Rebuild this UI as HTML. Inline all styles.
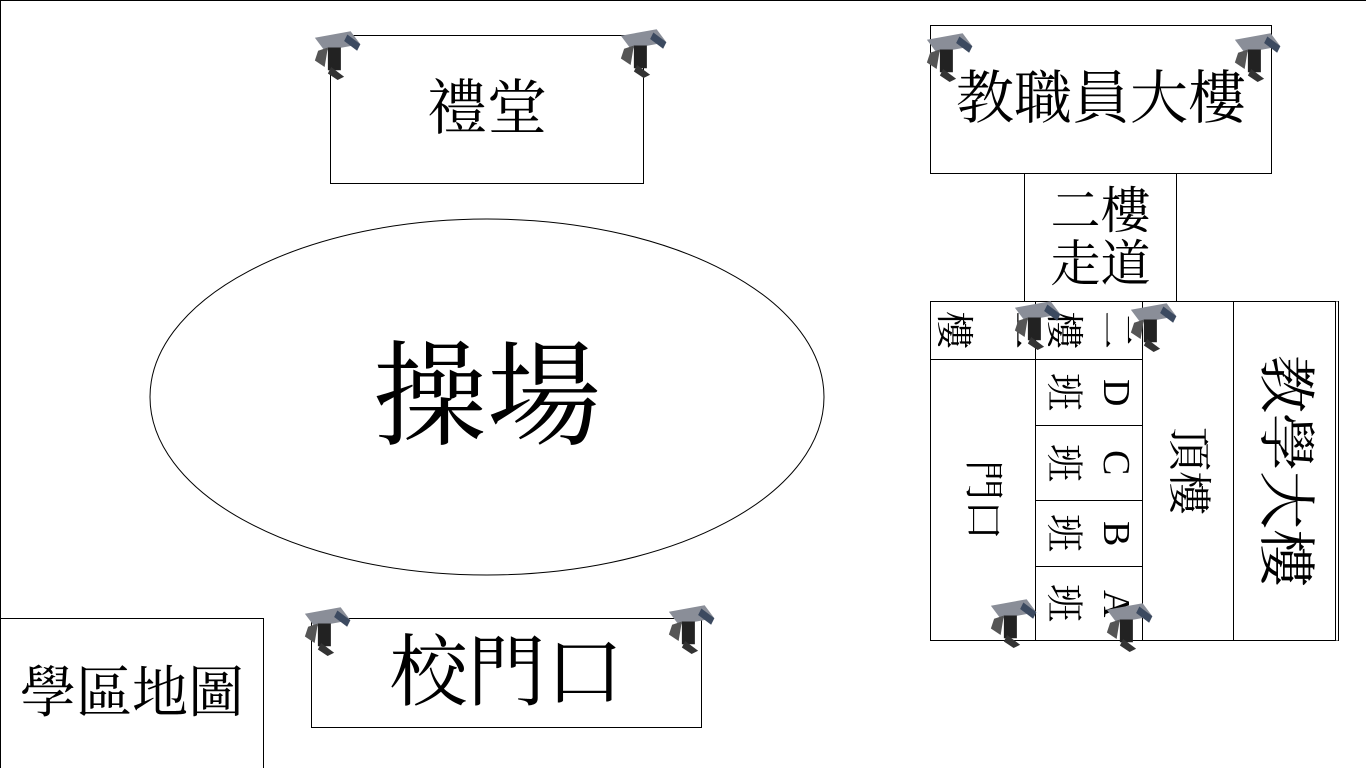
<!DOCTYPE html>
<html style="overflow:hidden;margin:0"><head><meta charset="utf-8">
<style>
body{margin:0;width:1366px;height:768px;position:relative;overflow:hidden;background:#fff;font-family:"Liberation Serif","Noto Serif CJK SC",serif;}
.b{position:absolute;border:1px solid #000;box-sizing:border-box;display:flex;align-items:center;justify-content:center;text-align:center;line-height:1.05;}
.v{writing-mode:vertical-rl;text-orientation:sideways;}
.cam{position:absolute;width:56px;height:52px;}
</style></head><body>
<div style="position:absolute;left:0;top:0;width:1366px;height:768px;border-top:1px solid #000;border-left:1px solid #000;box-sizing:border-box"></div>
<div class="b" style="left:330px;top:35px;width:314px;height:149px;font-size:60px">禮堂</div>
<div class="b" style="left:930px;top:25px;width:342px;height:149px;font-size:58px;padding-bottom:0">教職員大樓</div>
<div class="b" style="left:1024px;top:173px;width:153px;height:129px;font-size:50px">二樓<br>走道</div>
<svg style="position:absolute;left:0;top:0" width="1366" height="768"><ellipse cx="487" cy="397" rx="337" ry="178" fill="none" stroke="#000" stroke-width="1"/></svg>
<div style="position:absolute;left:237px;top:330px;width:500px;text-align:center;font-size:114px;line-height:1.2">操場</div>
<div class="b" style="left:0;top:618px;width:264px;height:160px;font-size:56px;padding-bottom:8px">學區地圖</div>
<div class="b" style="left:311px;top:618px;width:391px;height:110px;font-size:78px">校門口</div>
<div class="b" style="left:930px;top:301px;width:409px;height:340px;border-right:4px double #000"></div>
<div class="b v" style="left:930px;top:301px;width:106px;height:59px;font-size:38px;line-height:1.6">一<br>樓</div>
<div class="b v" style="left:930px;top:359px;width:106px;height:282px;font-size:40px">門口</div>
<div class="b v" style="left:1035px;top:301px;width:108px;height:59px;font-size:38px;line-height:1.4">二<br>樓</div>
<div class="b v" style="left:1035px;top:359px;width:108px;height:67px;font-size:38px;line-height:1.4">D<br>班</div>
<div class="b v" style="left:1035px;top:425px;width:108px;height:76px;font-size:38px;line-height:1.4">C<br>班</div>
<div class="b v" style="left:1035px;top:500px;width:108px;height:67px;font-size:38px;line-height:1.4">B<br>班</div>
<div class="b v" style="left:1035px;top:566px;width:108px;height:75px;font-size:38px;line-height:1.4">A<br>班</div>
<div class="b v" style="left:1142px;top:301px;width:92px;height:340px;font-size:44px">頂樓</div>
<div class="b v" style="left:1233px;top:301px;width:102px;height:340px;font-size:58px;border-right:none">教學大樓</div>
<svg width="0" height="0" style="position:absolute;left:0;top:0"><defs><g id="c"><polygon points="4,6 26,2 32,10 10,14" fill="#8a8e98"/><polygon points="24,4 32,10 30,14 22,8" fill="#3c4a60"/><rect x="12" y="12" width="8" height="14" fill="#222"/><polygon points="6,14 12,12 10,24 4,20" fill="#555"/><polygon points="14,24 22,30 18,32 12,28" fill="#333"/></g></defs></svg>
<svg class="cam" viewBox="0 0 34 32" style="left:308px;top:28px"><use href="#c"/></svg>
<svg class="cam" viewBox="0 0 34 32" style="left:614px;top:26px"><use href="#c"/></svg>
<svg class="cam" viewBox="0 0 34 32" style="left:920px;top:30px"><use href="#c"/></svg>
<svg class="cam" viewBox="0 0 34 32" style="left:1228px;top:30px"><use href="#c"/></svg>
<svg class="cam" viewBox="0 0 34 32" style="left:1008px;top:298px"><use href="#c"/></svg>
<svg class="cam" viewBox="0 0 34 32" style="left:1124px;top:300px"><use href="#c"/></svg>
<svg class="cam" viewBox="0 0 34 32" style="left:984px;top:596px"><use href="#c"/></svg>
<svg class="cam" viewBox="0 0 34 32" style="left:1100px;top:600px"><use href="#c"/></svg>
<svg class="cam" viewBox="0 0 34 32" style="left:298px;top:604px"><use href="#c"/></svg>
<svg class="cam" viewBox="0 0 34 32" style="left:662px;top:602px"><use href="#c"/></svg>
</body></html>
